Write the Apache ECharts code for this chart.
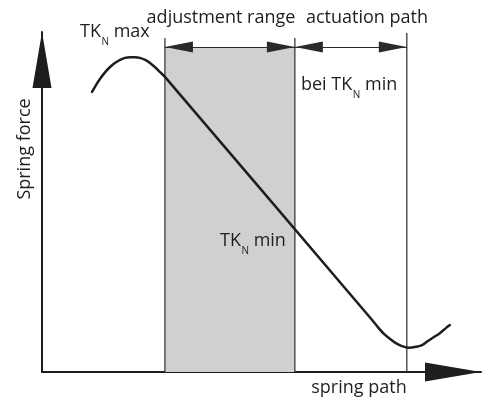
<!DOCTYPE html>
<html>
<head>
<meta charset="utf-8">
<script src="https://cdn.jsdelivr.net/npm/echarts@6/dist/echarts.min.js"></script>
<style>
  html, body { margin: 0; padding: 0; background: #fff; }
  #main { width: 489px; height: 400px; }
</style>
</head>
<body>
<div id="main"></div>
<script>
// spring force curve (spring path 0..100, force 0..100)
var curveX = [11.4, 12.3, 13.2, 14.4, 15.5, 16.6, 17.8, 18.9, 20.0, 21.2, 22.3, 23.5, 24.6, 25.7, 26.9, 28.0,
              75.2, 76.5, 77.9, 79.3, 80.6, 82.0, 83.6, 85.2, 86.6, 87.9, 89.3, 90.7, 92.0, 92.9];
var curveY = [82.4, 84.4, 86.2, 88.2, 89.7, 90.9, 91.8, 92.4, 92.6, 92.6, 92.4, 91.8, 90.9, 89.7, 88.2, 86.8,
              15.3, 13.2, 11.2, 9.7, 8.5, 7.6, 7.1, 7.4, 7.9, 9.1, 10.3, 11.5, 12.9, 13.8];

// vertical boundaries: adjustment range start / end, actuation path end
var boundaryX = [28.0, 57.6, 83.1];
var boundaryTop = [98.2, 98.2, 99.7];

// shaded adjustment range and dimension line height
var bandX = [28.0, 57.6];
var bandTop = 95.6;
var dimY = 95.6;

var ink = '#1e1e1e';
var font = '"Open Sans", "Noto Sans", sans-serif';
var bigFont = '18px ' + font;
var subFont = '10px ' + font;

function pairs(xs, ys) {
    var out = [];
    for (var i = 0; i < xs.length; i++) {
        out.push([xs[i], ys[i]]);
    }
    return out;
}

var ctx = document.createElement('canvas').getContext('2d');
function textWidth(str, f) {
    ctx.font = f;
    return ctx.measureText(str).width;
}

var myChart = echarts.init(document.getElementById('main'));

var series = [];

// gray band behind everything
series.push({
    type: 'line',
    data: [],
    silent: true,
    markArea: {
        silent: true,
        itemStyle: { color: '#cfd0d2' },
        data: [[{ coord: [bandX[0], 0] }, { coord: [bandX[1], bandTop] }]]
    },
    z: 1
});

// boundary verticals
boundaryX.forEach(function (x, i) {
    series.push({
        type: 'line',
        data: [[x, 0], [x, boundaryTop[i]]],
        symbol: 'none',
        silent: true,
        lineStyle: { color: '#3a3a3a', width: 1.3 },
        z: 2
    });
});

// dimension arrows
series.push({
    type: 'line',
    data: [],
    silent: true,
    markLine: {
        silent: true,
        symbol: ['triangle', 'triangle'],
        symbolSize: [11, 28],
        symbolOffset: [[0, 14], [0, 14]],
        label: { show: false },
        lineStyle: { color: '#2a2a2a', width: 1.2, type: 'solid' },
        data: [
            [{ coord: [boundaryX[0], dimY] }, { coord: [boundaryX[1], dimY] }],
            [{ coord: [boundaryX[1], dimY] }, { coord: [boundaryX[2], dimY] }]
        ]
    },
    z: 3
});

// spring force curve
series.push({
    type: 'line',
    data: pairs(curveX, curveY),
    symbol: 'none',
    smooth: 0.3,
    silent: true,
    lineStyle: { color: ink, width: 2.5, cap: 'round', join: 'round' },
    z: 4
});

function plain(text, x, y, align) {
    return {
        type: 'text',
        x: x,
        y: y,
        style: { text: text, fill: ink, font: bigFont, align: align || 'left', verticalAlign: 'middle' },
        z: 10
    };
}

// "TK" + subscript N + tail
function subLabel(main, tail, x, y) {
    var w1 = textWidth(main, bigFont);
    var w2 = textWidth('N', subFont);
    return {
        type: 'group',
        x: x,
        y: y,
        children: [
            plain(main, 0, 0),
            {
                type: 'text', x: w1 + 0.5, y: 10, z: 10,
                style: { text: 'N', fill: ink, font: subFont, verticalAlign: 'middle' }
            },
            plain(tail, w1 + w2 + 0.5, 0)
        ]
    };
}

var option = {
    animation: false,
    backgroundColor: '#fff',
    grid: { left: 42, right: 8, top: 32, bottom: 28 },
    xAxis: {
        type: 'value',
        min: 0,
        max: 100,
        axisLine: {
            show: true,
            symbol: ['none', 'triangle'],
            symbolSize: [19, 56],
            symbolOffset: [0, -28],
            lineStyle: { color: ink, width: 2 }
        },
        axisTick: { show: false },
        axisLabel: { show: false },
        splitLine: { show: false }
    },
    yAxis: {
        type: 'value',
        min: 0,
        max: 100,
        axisLine: {
            show: true,
            symbol: ['none', 'triangle'],
            symbolSize: [19, 56],
            symbolOffset: [0, -28],
            lineStyle: { color: ink, width: 2 }
        },
        axisTick: { show: false },
        axisLabel: { show: false },
        splitLine: { show: false }
    },
    graphic: [
        plain('adjustment range', 221, 18, 'center'),
        plain('actuation path', 367, 18, 'center'),
        subLabel('TK', ' max', 80, 32),
        subLabel('bei TK', ' min', 301, 85),
        subLabel('TK', ' min', 220, 241),
        plain('spring path', 359, 388, 'center'),
        {
            type: 'text',
            x: 25,
            y: 149,
            rotation: Math.PI / 2,
            style: { text: 'Spring force', fill: ink, font: bigFont, align: 'center', verticalAlign: 'middle' },
            z: 10
        }
    ],
    series: series
};

myChart.setOption(option);
</script>
</body>
</html>
